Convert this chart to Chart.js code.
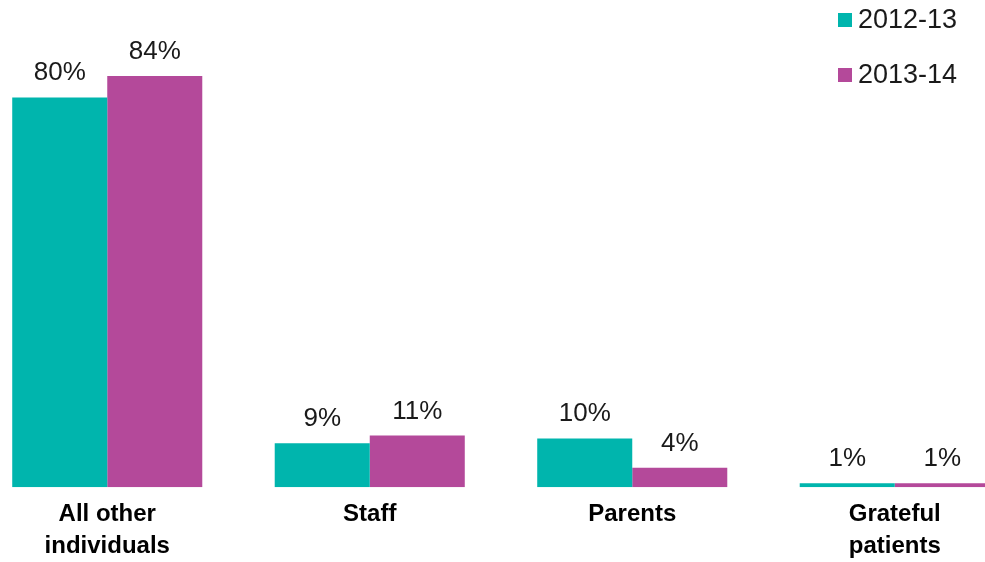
<!DOCTYPE html>
<html>
<head>
<meta charset="utf-8">
<script src="https://cdn.jsdelivr.net/npm/chart.js@4"></script>
<style>
  html, body { margin: 0; padding: 0; background: #fff; overflow: hidden; }
  #content-chart { position: relative; width: 1050px; height: 578px; margin-left: -24px; }
</style>
</head>
<body>
<div id="content-chart"><canvas id="myChart"></canvas></div>
<script>
const categorias = [["All other", "individuals"], "Staff", "Parents", ["Grateful", "patients"]];
const series = ["2012-13", "2013-14"];
const valores2012 = [80, 9, 10, 0.8];
const valores2013 = [84.4, 10.6, 4, 0.8];
const colores = ["#00b5ad", "#b4499a"];

const fuente = "'Liberation Sans', Arial, sans-serif";

// etiquetas de porcentaje encima de cada barra
const etiquetasBarras = {
  id: "etiquetasBarras",
  afterDatasetsDraw(chart) {
    const ctx = chart.ctx;
    ctx.save();
    ctx.font = `26px ${fuente}`;
    ctx.fillStyle = "#1a1a1a";
    ctx.textAlign = "center";
    ctx.textBaseline = "alphabetic";
    chart.data.datasets.forEach((ds, i) => {
      const meta = chart.getDatasetMeta(i);
      meta.data.forEach((bar, j) => {
        ctx.fillText(Math.round(ds.data[j]) + "%", bar.x, bar.y - 17);
      });
    });
    ctx.restore();
  },
};

// leyenda vertical arriba a la derecha
const leyenda = {
  id: "leyenda",
  afterDraw(chart) {
    const ctx = chart.ctx;
    ctx.save();
    ctx.font = `27px ${fuente}`;
    ctx.textBaseline = "middle";
    ctx.textAlign = "left";
    chart.data.datasets.forEach((ds, i) => {
      const y = 20 + i * 55;
      ctx.fillStyle = ds.backgroundColor;
      ctx.fillRect(862, y - 7, 14, 14);
      ctx.fillStyle = "#1a1a1a";
      ctx.fillText(ds.label, 882, y + 1);
    });
    ctx.restore();
  },
};

new Chart(document.getElementById("myChart"), {
  type: "bar",
  data: {
    labels: categorias,
    datasets: [
      {
        label: series[0],
        data: valores2012,
        backgroundColor: colores[0],
        borderWidth: 0,
      },
      {
        label: series[1],
        data: valores2013,
        backgroundColor: colores[1],
        borderWidth: 0,
      },
    ],
  },
  options: {
    responsive: true,
    maintainAspectRatio: false,
    animation: false,
    layout: { padding: { left: 0, right: 0, top: 0, bottom: 4 } },
    datasets: {
      bar: { categoryPercentage: 0.724, barPercentage: 1 },
    },
    plugins: {
      legend: { display: false },
      tooltip: { enabled: false },
    },
    scales: {
      x: {
        grid: { display: false, drawTicks: false },
        border: { display: false },
        ticks: {
          color: "#000",
          padding: 11,
          maxRotation: 0,
          autoSkip: false,
          font: { family: fuente, size: 24, weight: "bold", lineHeight: 1.35 },
        },
      },
      y: {
        display: false,
        min: 0,
        max: 100,
      },
    },
  },
  plugins: [etiquetasBarras, leyenda],
});
</script>
</body>
</html>
